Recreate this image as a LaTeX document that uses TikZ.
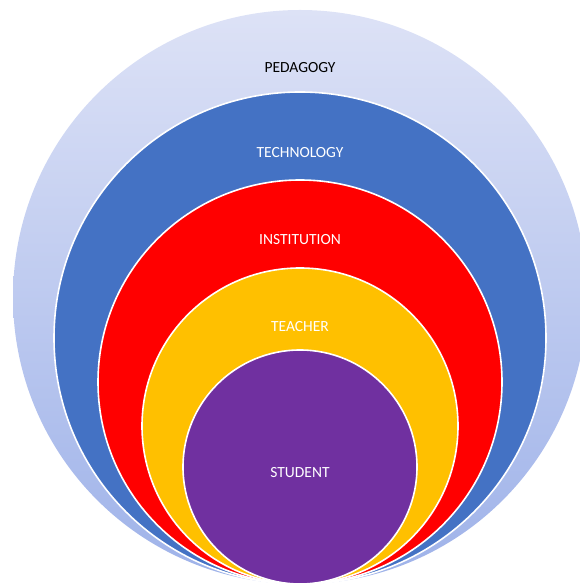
\documentclass[tikz,border=0pt]{standalone}
\usepackage{fontspec}
\setmainfont{Carlito}
\usepackage{tikz}
\definecolor{pedtop}{RGB}{221,226,246}
\definecolor{pedbot}{RGB}{158,178,233}
\definecolor{techblue}{RGB}{68,114,196}
\definecolor{instred}{RGB}{255,0,0}
\definecolor{teachgold}{RGB}{255,192,0}
\definecolor{studpurple}{RGB}{112,48,160}
% one disc resting on the common bottom point, radius in pt
\newcommand{\layer}[2]{\filldraw[fill=#2, draw=white, line width=1.6pt] (300, 2+#1) circle (#1pt);}

\begin{document}
\begin{tikzpicture}[x=1pt, y=1pt,
    lbl/.style={font=\fontsize{15.5}{18}\selectfont, text=white, inner sep=0pt}]
    \useasboundingbox (0,0) rectangle (579,586);

    % Draw discs
    \shade[top color=pedtop, bottom color=pedbot] (300, 2+287) circle (287pt);
    \layer{246}{techblue}
    \layer{202}{instred}
    \layer{158}{teachgold}
    \layer{117}{studpurple}

    % Draw labels
    \node[lbl, text=black] (pedagogy) at (300, 586-68) {PEDAGOGY};
    \node[lbl] (technology) at (300, 586-153) {TECHNOLOGY};
    \node[lbl] (institution) at (300, 586-240) {INSTITUTION};
    \node[lbl] (teacher) at (300, 586-327) {TEACHER};
    \node[lbl] (student) at (300, 586-473) {STUDENT};
\end{tikzpicture}
\end{document}
